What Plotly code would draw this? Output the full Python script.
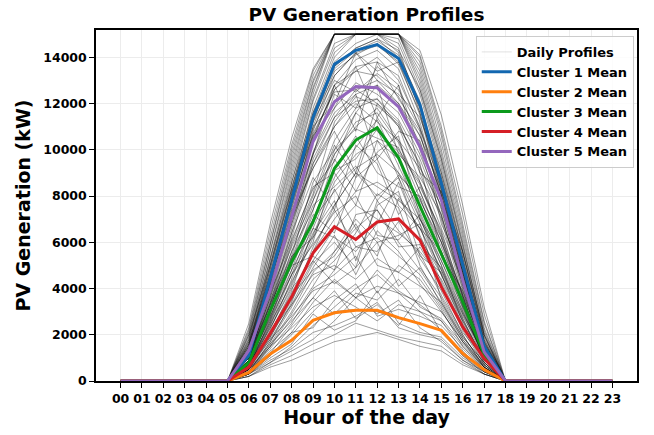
import plotly.graph_objects as go

hours = list(range(24))
hour_labels = [f"{h:02d}" for h in hours]
day_hours = list(range(6, 18))  # hours with non-zero generation in the profiles

cluster_names = ["Cluster 1 Mean", "Cluster 2 Mean", "Cluster 3 Mean", "Cluster 4 Mean", "Cluster 5 Mean"]
cluster_colors = ["#1267b0", "#ff7f0e", "#0c9a1c", "#d51f26", "#9467bd"]

cluster1 = [0, 0, 0, 0, 0, 0, 1100, 4500, 7800, 11400, 13700, 14300, 14550, 13950, 11950, 8550, 5080, 1500, 0, 0, 0, 0, 0, 0]
cluster2 = [0, 0, 0, 0, 0, 0, 370, 1170, 1760, 2620, 2950, 3060, 3060, 2740, 2480, 2190, 1190, 490, 0, 0, 0, 0, 0, 0]
cluster3 = [0, 0, 0, 0, 0, 0, 800, 3060, 5150, 6880, 9190, 10420, 10950, 9650, 7560, 5500, 3420, 1150, 0, 0, 0, 0, 0, 0]
cluster4 = [0, 0, 0, 0, 0, 0, 600, 2060, 3640, 5530, 6670, 6120, 6880, 7010, 6090, 4070, 2340, 970, 0, 0, 0, 0, 0, 0]
cluster5 = [0, 0, 0, 0, 0, 0, 1330, 3930, 7100, 10350, 12080, 12730, 12680, 11860, 10130, 7820, 4360, 1260, 0, 0, 0, 0, 0, 0]
cluster_means = [cluster1, cluster2, cluster3, cluster4, cluster5]

# Daily profiles (values for hours 06..17, zero otherwise)
daily_profiles = [
    [1200, 4600, 8000, 11500, 13800, 14600, 15000, 14200, 12000, 8600, 5000, 1500],
    [1800, 5600, 9200, 12600, 15000, 15000, 15000, 15000, 13200, 9800, 6000, 2000],
    [900, 4000, 7400, 10800, 13200, 14200, 14500, 13800, 11500, 8000, 4600, 1200],
    [2200, 6200, 10000, 13200, 15000, 15000, 15000, 15000, 14000, 10800, 6800, 2600],
    [1400, 4800, 8300, 11800, 14200, 15000, 15000, 14600, 12400, 9000, 5400, 1700],
    [1000, 4300, 7700, 11200, 13600, 14400, 14800, 14000, 11800, 8300, 4800, 1300],
    [2500, 6800, 10500, 13500, 15000, 15000, 15000, 15000, 14300, 11500, 7600, 3200],
    [1600, 5200, 8800, 12200, 14600, 15000, 15000, 15000, 12800, 9400, 5600, 1900],
    [800, 3700, 7000, 10400, 12800, 13900, 14300, 13500, 11200, 7700, 4300, 1100],
    [2000, 5900, 9600, 12900, 15000, 15000, 15000, 15000, 13600, 10300, 6400, 2300],
    [1300, 4500, 7900, 11300, 13500, 14300, 14700, 14100, 12100, 8800, 5200, 1600],
    [1100, 4400, 8100, 11600, 14000, 15000, 15000, 14400, 11600, 8200, 4700, 1400],
    [1700, 5400, 9000, 12400, 15000, 15000, 15000, 15000, 13000, 9600, 5800, 2100],
    [1900, 5700, 9400, 12700, 15000, 15000, 15000, 15000, 13400, 10000, 6200, 2200],
    [1300, 3900, 7100, 10300, 12100, 12700, 12700, 11900, 10100, 7800, 4400, 1300],
    [1700, 4600, 7800, 10900, 12800, 13400, 13200, 12300, 10600, 8300, 4900, 1500],
    [900, 3300, 6400, 9600, 11400, 12100, 12200, 11300, 9600, 7200, 3900, 1000],
    [1500, 4200, 7500, 10700, 12500, 12600, 13000, 12000, 10300, 7900, 4600, 1400],
    [1100, 3600, 6800, 9900, 11800, 12900, 12400, 11600, 9800, 7500, 4100, 1100],
    [2000, 5000, 8300, 11200, 13000, 12500, 13300, 12600, 10900, 8500, 5100, 1700],
    [800, 3100, 6200, 9400, 11000, 12300, 11900, 11100, 9300, 7000, 3700, 900],
    [800, 3000, 5100, 6900, 9200, 10400, 11000, 9600, 7600, 5500, 3400, 1200],
    [1000, 3500, 5800, 7800, 9800, 11200, 11600, 10300, 8200, 6000, 3800, 1400],
    [600, 2600, 4600, 6300, 8600, 9800, 10400, 9000, 7000, 5000, 3000, 1000],
    [900, 3200, 5600, 7400, 10000, 10900, 10500, 10100, 7900, 5800, 3500, 1300],
    [700, 2800, 4800, 6600, 8800, 10100, 11300, 9300, 7300, 5200, 3200, 1100],
    [1200, 3800, 6100, 8300, 9500, 11600, 10800, 9900, 8500, 6200, 3700, 1500],
    [500, 2400, 4300, 6000, 9100, 9600, 10900, 8800, 6800, 4800, 2900, 900],
    [600, 2000, 3600, 5500, 6700, 6100, 6900, 7000, 6100, 4100, 2300, 1000],
    [800, 2500, 4200, 6400, 7800, 5200, 7600, 8200, 5400, 4700, 2800, 1200],
    [400, 1600, 3000, 4700, 5600, 7000, 6000, 6300, 6800, 3500, 1900, 800],
    [700, 2300, 4100, 6200, 8300, 6600, 5400, 7900, 6600, 4600, 2600, 900],
    [500, 1800, 3300, 5100, 6000, 4900, 7800, 6500, 5500, 3700, 2100, 1000],
    [900, 2700, 4600, 5900, 7300, 8000, 6300, 6100, 7200, 5000, 2500, 800],
    [300, 1500, 2900, 4400, 5200, 6400, 8100, 7500, 5000, 3300, 1800, 700],
    [600, 2100, 3900, 6600, 6200, 5600, 6800, 8600, 6300, 4300, 2400, 1100],
    [1000, 3000, 5000, 5400, 4800, 7200, 7400, 5800, 5900, 4900, 2900, 1300],
    [400, 1700, 3400, 5800, 7400, 5800, 5600, 6900, 5300, 3900, 2000, 600],
    [700, 2600, 5200, 7600, 8400, 9300, 7800, 8900, 7900, 5600, 3300, 1100],
    [1100, 3600, 6400, 8800, 7400, 10200, 9400, 7200, 8400, 6500, 3600, 1200],
    [500, 2200, 4400, 6800, 9600, 8200, 9900, 10600, 7100, 4600, 2700, 900],
    [1300, 4200, 7000, 9200, 10800, 9000, 12000, 11000, 9400, 5400, 3900, 1600],
    [800, 3100, 5900, 8100, 11200, 12400, 9600, 10800, 10400, 7400, 4200, 1200],
    [1500, 4900, 8200, 10600, 11800, 13600, 11400, 12800, 9000, 8200, 5600, 2000],
    [1000, 3800, 7300, 9800, 12800, 10800, 13800, 12200, 10800, 6800, 4800, 1500],
    [600, 2700, 5400, 8600, 10000, 11600, 12800, 9800, 8800, 7200, 4000, 1000],
    [400, 1200, 1800, 2600, 3000, 3100, 3000, 2700, 2500, 2200, 1200, 500],
    [300, 900, 1400, 2100, 2400, 2800, 3400, 2300, 2000, 1800, 900, 400],
    [500, 1500, 2300, 3200, 3700, 3200, 2600, 3300, 3000, 2600, 1500, 600],
    [200, 700, 1100, 1600, 2000, 2500, 2200, 1900, 1700, 1500, 800, 300],
    [600, 1800, 2800, 3900, 4300, 3600, 4100, 3800, 3400, 3000, 1700, 700],
    [300, 1000, 1600, 2900, 2200, 2600, 3900, 2500, 2100, 1900, 1000, 400],
    [400, 1300, 2100, 2300, 3500, 4200, 2800, 3100, 2800, 2400, 1400, 500],
    [200, 600, 900, 1300, 1700, 1900, 2100, 1800, 1500, 1300, 700, 300],
    [500, 1600, 2600, 3600, 2900, 3800, 3500, 4400, 3200, 2700, 1600, 600],
    [300, 1100, 2000, 3000, 3900, 2700, 3300, 2400, 3700, 2100, 1100, 400],
    [700, 2100, 3300, 4600, 5000, 4400, 5300, 4700, 4100, 3400, 1900, 800],
    [400, 1400, 2500, 4000, 4600, 5400, 3800, 5000, 4400, 3100, 1500, 500],
    [600, 1900, 3500, 5200, 4200, 4900, 6000, 4100, 4900, 3600, 2000, 600],
    [300, 800, 1300, 1800, 2600, 3600, 2900, 3500, 2300, 1700, 900, 300],
    [1500, 5000, 8600, 12100, 14400, 15000, 15000, 14800, 12600, 9200, 5500, 1800],
    [2300, 6500, 10200, 13400, 15000, 15000, 15000, 15000, 14100, 11000, 7200, 2900],
    [1200, 4200, 7600, 11000, 13400, 14100, 14600, 13700, 11600, 8400, 5000, 1500],
    [1000, 3900, 7200, 10600, 12600, 13600, 13800, 13200, 10900, 8000, 4700, 1300],
    [1400, 4700, 8000, 11000, 12000, 14200, 13000, 12400, 11400, 8800, 5300, 1600],
    [900, 3400, 6600, 9800, 12400, 11800, 13600, 12800, 10000, 7100, 4200, 1100],
    [1600, 4400, 7200, 9200, 11000, 12000, 11200, 10400, 9200, 7600, 4500, 1500],
    [700, 2900, 5600, 8000, 10400, 11800, 12200, 11000, 8600, 6300, 3400, 900],
    [1100, 3300, 5300, 7000, 8200, 9200, 9800, 9000, 7800, 6000, 3600, 1200],
    [500, 2100, 3800, 5600, 7000, 8200, 8600, 8000, 6600, 4800, 2700, 800],
    [800, 2800, 5000, 7200, 6400, 8800, 9600, 7600, 6600, 5600, 3100, 1000],
    [600, 2300, 4000, 5200, 6600, 7600, 7000, 6400, 5600, 4400, 2600, 900],
    [300, 1200, 2400, 3600, 4800, 5800, 6200, 5400, 4600, 3200, 1700, 500],
    [900, 3300, 6000, 8400, 9000, 7600, 10400, 9600, 7000, 5200, 3000, 1100],
    [400, 1700, 3200, 4900, 6300, 4600, 6500, 5600, 4200, 3000, 1700, 600],
    [1200, 4000, 6800, 9400, 11400, 12600, 12000, 11200, 9000, 6600, 4300, 1400],
    [700, 2400, 4600, 7000, 9200, 10600, 9000, 8400, 8000, 6200, 3300, 1000],
    [500, 2000, 3700, 4800, 5400, 6800, 5000, 4700, 5800, 4200, 2200, 700],
    [300, 1100, 2100, 3400, 4400, 3600, 4800, 3900, 3300, 2600, 1300, 400],
    [1800, 5300, 8600, 11600, 13600, 14400, 14800, 14300, 12600, 9600, 5900, 2000],
    [1300, 4100, 7000, 9800, 11600, 12400, 12800, 12000, 10600, 8100, 4700, 1500],
    [2100, 6000, 9800, 13000, 15000, 15000, 15000, 15000, 13800, 10600, 6600, 2500],
    [600, 2500, 4800, 7400, 9800, 11000, 11800, 10400, 8200, 6000, 3200, 900],
    [1000, 3400, 5400, 6200, 7600, 9000, 8400, 7800, 7000, 5600, 3400, 1200],
    [400, 1500, 2700, 4100, 5600, 6600, 7400, 6000, 4800, 3400, 1800, 600],
    [800, 2900, 5300, 7800, 10200, 8800, 11400, 10000, 8600, 6400, 3700, 1000],
    [1400, 4600, 7700, 10500, 12600, 13400, 14000, 13000, 11000, 8000, 5100, 1700],
    [200, 800, 1500, 2400, 3200, 4000, 4600, 3800, 3000, 2200, 1100, 300],
    [500, 1900, 3600, 5600, 7600, 9000, 8000, 8800, 6200, 4600, 2400, 700],
    [1600, 5000, 8400, 11400, 13200, 14200, 13400, 13800, 11800, 9000, 5600, 1800],
]

FONT = "DejaVu Sans"

fig = go.Figure()

# legend entry for the daily profiles (very light line, like the reference legend)
fig.add_trace(go.Scatter(
    x=[None], y=[None], mode="lines",
    line=dict(color="rgba(0,0,0,0.12)", width=1),
    name="Daily Profiles", legendgroup="daily", showlegend=True,
))

for prof in daily_profiles:
    full = [0] * len(hours)
    for h, v in zip(day_hours, prof):
        full[h] = v
    fig.add_trace(go.Scatter(
        x=hours, y=full, mode="lines",
        line=dict(color="rgba(0,0,0,0.38)", width=1),
        name="Daily Profiles", legendgroup="daily",
        showlegend=False, hoverinfo="skip",
    ))

for name, color, vals in zip(cluster_names, cluster_colors, cluster_means):
    fig.add_trace(go.Scatter(
        x=hours, y=vals, mode="lines",
        line=dict(color=color, width=3),
        name=name,
    ))

fig.update_layout(
    width=654, height=435,
    margin=dict(l=96, r=17, t=30, b=54, autoexpand=False),
    paper_bgcolor="white", plot_bgcolor="white",
    font=dict(family=FONT, color="black", size=12, weight=700),
    title=dict(
        text="<b>PV Generation Profiles</b>",
        x=(96 + 637) / 2 / 654, xanchor="center",
        y=1 - 15 / 435, yanchor="middle", yref="container",
        font=dict(family=FONT, size=18.5, color="black"),
    ),
    legend=dict(
        x=0.994, xanchor="right", y=0.983, yanchor="top",
        bgcolor="rgba(255,255,255,0.85)", bordercolor="#cccccc", borderwidth=1,
        font=dict(family=FONT, size=13, weight=700),
        tracegroupgap=0, itemwidth=30,
    ),
    showlegend=True,
)

fig.update_xaxes(
    range=[-1.15, 24.15], automargin=False,
    tickmode="array", tickvals=hours, ticktext=hour_labels,
    ticks="outside", ticklen=5, tickwidth=1.3, tickcolor="black",
    showline=True, linecolor="black", linewidth=1.5, mirror=True,
    showgrid=True, gridcolor="#ececec", gridwidth=1,
    zeroline=False,
    tickfont=dict(family=FONT, size=12.5, weight=700),
    title=dict(text="<b>Hour of the day</b>", font=dict(family=FONT, size=19), standoff=6),
)
fig.update_yaxes(
    range=[0, 15180], automargin=False,
    tickmode="linear", tick0=0, dtick=2000, tickformat="d",
    ticks="outside", ticklen=5, tickwidth=1.3, tickcolor="black",
    showline=True, linecolor="black", linewidth=1.5, mirror=True,
    showgrid=True, gridcolor="#ececec", gridwidth=1,
    zeroline=False,
    tickfont=dict(family=FONT, size=12.5, weight=700),
    title=dict(text="<b>PV Generation (kW)</b>", font=dict(family=FONT, size=19), standoff=8),
)

fig.write_html(
    "out.html",
    config={"displayModeBar": False},
    post_script="document.body.style.margin='0px';document.body.style.padding='0px';",
)
